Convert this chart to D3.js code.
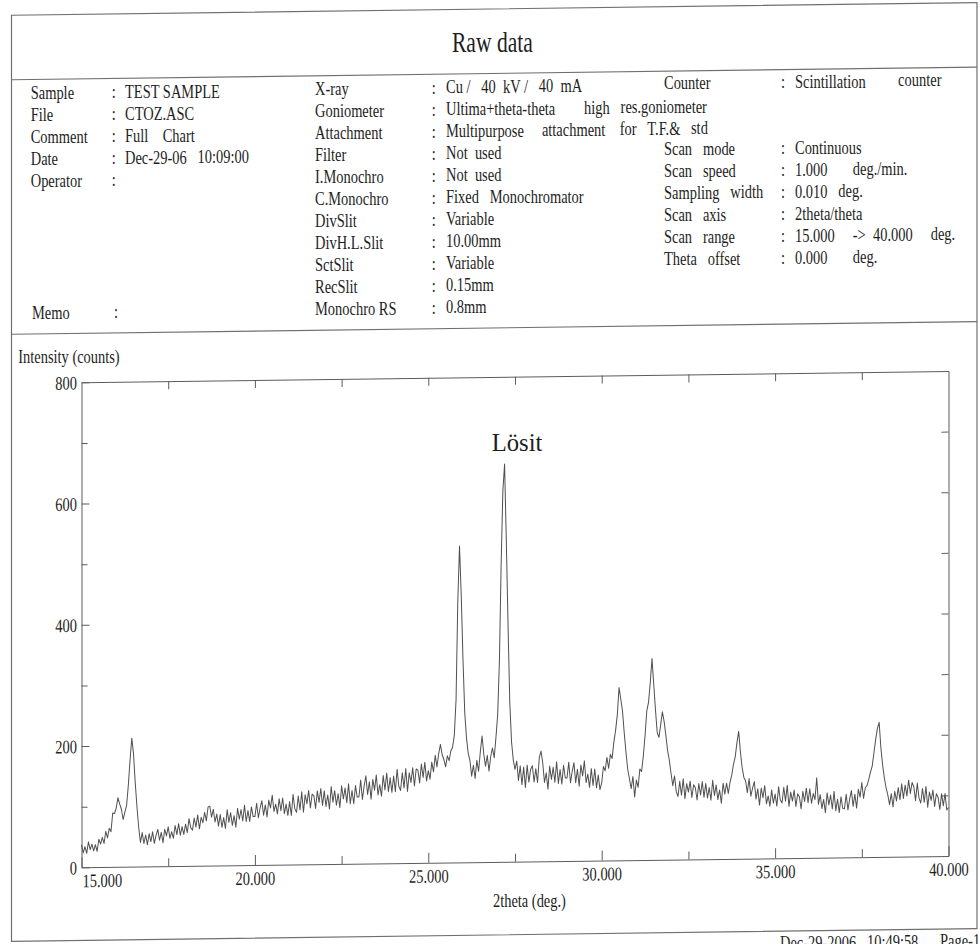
<!DOCTYPE html>
<html><head><meta charset="utf-8">
<script src="https://cdn.jsdelivr.net/npm/d3@7"></script>
<style>
html,body{margin:0;padding:0;background:#fff;}
svg{display:block;}
text{font-family:"Liberation Serif","Times New Roman",serif;fill:#1e1e1e;white-space:pre;}
.axis path,.axis line{stroke:#5c5c5c;stroke-width:1;}
</style></head><body>
<svg id="chart" width="980" height="944"></svg>
<script>
// ---------- texts ----------
const chartTitle = "Raw data";
const peakLabel = "Lösit";
const yAxisTitle = "Intensity (counts)";
const xAxisTitle = "2theta (deg.)";
const footerText = "Dec-29-2006   10:49:58      Page-1";
const sampleLabels = ["Sample","File","Comment","Date","Operator"];
const sampleValues = ["TEST SAMPLE","CTOZ.ASC","Full    Chart","Dec-29-06   10:09:00",""];
const memoLabel = "Memo";
const instrumentLabels = ["X-ray","Goniometer","Attachment","Filter","I.Monochro","C.Monochro","DivSlit","DivH.L.Slit","SctSlit","RecSlit","Monochro RS"];
const instrumentValues = ["Cu /   40  kV /   40  mA","Ultima+theta-theta        high   res.goniometer","Multipurpose     attachment    for   T.F.&   std","Not  used","Not  used","Fixed   Monochromator","Variable","10.00mm","Variable","0.15mm","0.8mm"];
const scanLabels = ["Counter","","","Scan   mode","Scan   speed","Sampling   width","Scan   axis","Scan   range","Theta   offset"];
const scanValues = ["Scintillation         counter","","","Continuous","1.000       deg./min.","0.010   deg.","2theta/theta","15.000     ->  40.000     deg.","0.000       deg."];

// ---------- axes ----------
const xDomain = [15, 40];
const yDomain = [0, 800];
const xMajorTicks = [15, 20, 25, 30, 35, 40];
const xMinorTicks = [17.5, 22.5, 27.5, 32.5, 37.5];
const xTopTicks = [17.5, 20, 22.5, 25, 27.5, 30, 32.5, 35, 37.5];
const yMajorTicks = [0, 200, 400, 600, 800];
const yMinorTicks = [100, 300, 500, 700];
const yRightTicks = [100, 200, 300, 400, 500, 600, 700];

// ---------- scan data (2theta 15.00 -> 40.00, read on a 0.05 deg grid) ----------
const scanStart = 15;
const scanStep = 0.05;
const intensity = [
 37,24,34,23,42,29,38,27,37,26,46,38,49,39,59,48,64,58,89,88,
 97,114,104,95,78,90,101,134,176,212,186,138,98,64,40,56,38,52,36,54,
 41,57,38,51,61,43,56,39,61,50,65,46,57,46,67,52,70,51,65,52,
 69,55,78,63,59,79,64,84,61,80,71,88,74,97,98,80,93,72,85,65,
 84,63,79,61,92,71,87,66,82,63,94,76,92,73,99,72,90,72,96,80,
 80,102,78,94,106,82,99,79,107,94,115,88,100,84,109,89,110,84,100,81,
 104,81,116,92,86,113,90,120,86,115,100,122,93,116,113,92,121,102,125,97,
 121,95,114,91,128,102,121,97,116,93,129,107,125,101,132,99,121,99,129,110,
 110,138,106,128,145,114,135,106,139,121,146,113,130,111,145,121,149,118,141,117,
 144,118,155,127,120,149,124,156,118,149,133,157,127,155,153,132,163,141,166,135,
 152,138,166,150,177,158,180,195,178,170,158,176,168,184,190,210,268,430,522,440,
 335,248,206,180,168,142,160,138,168,150,182,208,178,158,176,150,174,188,172,205,
 242,330,490,612,656,528,388,262,198,168,152,166,134,158,127,156,122,159,131,152,
 158,131,153,130,171,182,162,130,146,119,157,135,155,130,164,128,151,127,158,137,
 137,163,129,148,162,129,151,123,158,140,165,129,143,121,152,124,151,120,141,117,
 128,155,148,170,152,175,168,195,214,240,285,266,246,210,178,150,134,118,138,104,
 132,120,150,146,172,205,246,260,292,332,290,248,210,202,222,244,228,205,180,164,
 142,122,138,112,104,129,106,133,100,125,111,129,102,123,118,98,125,106,128,102,
 125,101,118,97,130,105,122,98,114,92,125,107,125,108,126,138,156,168,192,210,
 176,150,134,128,109,132,103,116,127,98,115,88,116,100,120,90,103,86,113,91,
 106,86,118,96,91,117,94,120,85,109,94,112,85,106,101,81,110,93,115,91,
 114,90,106,96,132,88,104,81,96,74,107,87,103,80,109,77,96,74,100,81,
 80,104,78,96,110,84,104,81,112,99,123,97,114,118,128,140,150,172,194,212,
 222,180,152,130,114,102,86,104,82,108,92,114,94,120,96,118,100,126,104,122,
 115,92,121,96,88,112,89,115,81,106,92,109,82,103,97,77,103,83,103,76,
 80
];

// ---------- drawing ----------
const svg = d3.select("#chart");
svg.append("rect").attr("width", 980).attr("height", 944).attr("fill", "#fff");
// the scanned page is slightly tilted (right side higher)
const tilt = 0.0131, cx = 490;
const page = svg.append("g")
  .attr("transform", `matrix(1,${-tilt},0,1,0,${(tilt * cx).toFixed(3)})`);
const tiltY = (xx, yy) => yy - tilt * (xx - cx);
const textLayer = svg.append("g");

const cond = 0.79; // the printed font is narrow
const meas = svg.append("text").attr("visibility", "hidden");
function measure(s, size) {
  if (!s) return 0;
  meas.attr("font-size", size).text(s);
  return meas.node().getComputedTextLength();
}
// places text word by word, each word following the tilt of the page
function txt(x0, y0, s, size, anchor, f) {
  const k = f == null ? cond : f;
  if (anchor === "middle") {
    textLayer.append("text")
      .attr("transform", `translate(${x0},${tiltY(x0, y0).toFixed(2)}) scale(${k},1)`)
      .attr("font-size", size).attr("text-anchor", "middle").text(s);
    return;
  }
  const re = /\S+(?: \S+)*/g;
  let m;
  while ((m = re.exec(s))) {
    const xx = x0 + measure(s.slice(0, m.index), size) * k;
    textLayer.append("text")
      .attr("transform", `translate(${xx.toFixed(2)},${tiltY(xx, y0).toFixed(2)}) scale(${k},1)`)
      .attr("font-size", size).text(m[0]);
  }
}

// page frame
const frameColor = "#707070";
page.append("rect").attr("x", 11.5).attr("y", 9).attr("width", 965.5).attr("height", 926)
  .attr("fill", "none").attr("stroke", frameColor).attr("stroke-width", 1.2);
page.append("line").attr("x1", 11.5).attr("x2", 977).attr("y1", 73.5).attr("y2", 73.5)
  .attr("stroke", frameColor).attr("stroke-width", 1.2);
page.append("line").attr("x1", 11.5).attr("x2", 977).attr("y1", 328).attr("y2", 328)
  .attr("stroke", frameColor).attr("stroke-width", 1.2);

// title
txt(492.4, 52.3, chartTitle, 28.4, "middle", 0.76);

// header info
const hs = 18.3, rowH = 22;
sampleLabels.forEach((l, i) => {
  const yy = 93.3 + rowH * i;
  txt(30.7, yy, l, hs);
  txt(111.7, yy, ":", hs);
  if (sampleValues[i]) txt(125, yy, sampleValues[i], hs);
});
txt(32, 93.3 + rowH * 10, memoLabel, hs);
txt(114, 93.3 + rowH * 10, ":", hs);
instrumentLabels.forEach((l, i) => {
  const yy = 92.8 + rowH * i;
  txt(315, yy, l, hs);
  txt(431.7, yy, ":", hs);
  txt(446, yy, instrumentValues[i], hs);
});
scanLabels.forEach((l, i) => {
  if (!l) return;
  const yy = 91.6 + rowH * i;
  txt(664, yy, l, hs);
  txt(781, yy, ":", hs);
  txt(795, yy, scanValues[i], hs);
});

// plot
const x = d3.scaleLinear().domain(xDomain).range([81.5, 948.5]);
const y = d3.scaleLinear().domain(yDomain).range([862, 377]);
const plot = page.append("g");

function styleAxis(g) {
  g.attr("class", "axis").attr("font-family", null).attr("font-size", null);
}
const fmtY = d3.format("d"), fmtX = d3.format(".3f");
const ts = 19, tcond = 0.76;

const axL = plot.append("g").attr("transform", `translate(${x(15)},0)`)
  .call(d3.axisLeft(y).tickValues(yMajorTicks).tickSizeInner(-8).tickSizeOuter(0).tickFormat(fmtY));
styleAxis(axL);
axL.selectAll("text").attr("font-size", ts).attr("dy", "0.34em")
  .attr("x", -4.5 / tcond).attr("transform", `scale(${tcond},1)`);

const axLm = plot.append("g").attr("transform", `translate(${x(15)},0)`)
  .call(d3.axisLeft(y).tickValues(yMinorTicks).tickSizeInner(-6).tickSizeOuter(0).tickFormat(""));
styleAxis(axLm); axLm.select(".domain").remove();

const axR = plot.append("g").attr("transform", `translate(${x(40)},0)`)
  .call(d3.axisRight(y).tickValues(yRightTicks).tickSizeInner(-7).tickSizeOuter(0).tickFormat(""));
styleAxis(axR);

const axT = plot.append("g").attr("transform", `translate(0,${y(800)})`)
  .call(d3.axisTop(x).tickValues(xTopTicks).tickSizeInner(-8).tickSizeOuter(0).tickFormat(""));
styleAxis(axT);

const axB = plot.append("g").attr("transform", `translate(0,${y(0)})`)
  .call(d3.axisBottom(x).tickValues(xMajorTicks).tickSizeInner(-10).tickSizeOuter(0).tickFormat(fmtX));
styleAxis(axB);
axB.selectAll("text").attr("font-size", ts).attr("y", 19.8).attr("dy", null)
  .attr("text-anchor", d => d === xDomain[0] ? "start" : "middle")
  .attr("x", d => d === xDomain[0] ? 0.6 / tcond : 0)
  .attr("transform", `scale(${tcond},1)`);

const axBm = plot.append("g").attr("transform", `translate(0,${y(0)})`)
  .call(d3.axisBottom(x).tickValues(xMinorTicks).tickSizeInner(-8).tickSizeOuter(0).tickFormat(""));
styleAxis(axBm); axBm.select(".domain").remove();

// scan curve
const twoTheta = intensity.map((_, i) => scanStart + i * scanStep);
const line = d3.line().x((d, i) => x(twoTheta[i])).y(d => y(d));
plot.append("path").datum(intensity).attr("d", line)
  .attr("fill", "none").attr("stroke", "#505050").attr("stroke-width", 1)
  .attr("stroke-linejoin", "round");

// axis titles
txt(18.3, 357.3, yAxisTitle, ts, "start", tcond);
txt(493, 906.7, xAxisTitle, ts, "start", tcond);

// annotation above the main peak
txt(491.7, 451, peakLabel, 26, "start", 0.95);

// footer (cut by the page edge, as on the scan)
txt(780, 953, footerText, ts, "start", tcond);

meas.remove();
</script>
</body></html>
